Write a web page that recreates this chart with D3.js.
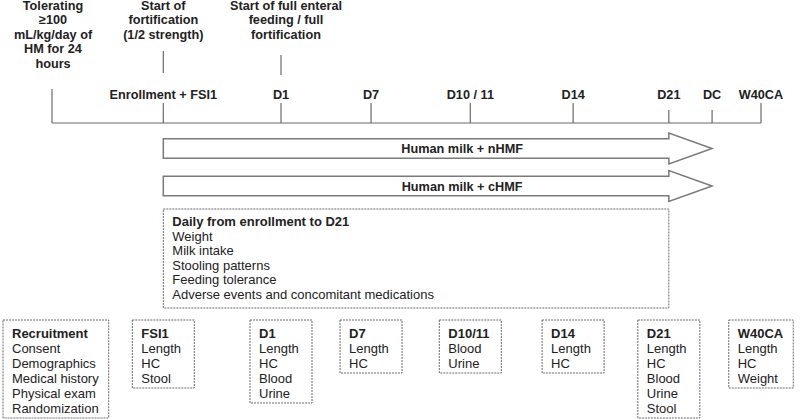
<!DOCTYPE html>
<html>
<head>
<meta charset="utf-8">
<script src="https://cdn.jsdelivr.net/npm/d3@7"></script>
<style>
  body { margin: 0; background: #fff; }
  svg { display: block; font-family: "Liberation Sans", Arial, sans-serif; }
</style>
</head>
<body>
<div id="chart"></div>
<script>
// timeline milestones, position is % along the timeline
const milestones = ["", "Enrollment + FSI1", "D1", "D7", "D10 / 11", "D14", "D21", "DC", "W40CA"];
const milestonePos = [0, 15.7, 32.3, 45, 59, 73.5, 87, 93.1, 100];
const tickKind = ["long", "major", "major", "major", "major", "major", "minor", "minor", "major"];

// notes above the timeline (milestone index + text lines)
const noteAt = [0, 1, 2];
const noteLines = [
  ["Tolerating", "\u2265100", "mL/kg/day of", "HM for 24", "hours"],
  ["Start of", "fortification", "(1/2 strength)"],
  ["Start of full enteral", "feeding / full", "fortification"]
];

// study arms (arrows)
const arms = ["Human milk + nHMF", "Human milk + cHMF"];

// daily assessments
const dailyTitle = "Daily from enrollment to D21";
const dailyItems = ["Weight", "Milk intake", "Stooling patterns", "Feeding tolerance", "Adverse events and concomitant medications"];

// visit boxes
const visitTitles = ["Recruitment", "FSI1", "D1", "D7", "D10/11", "D14", "D21", "W40CA"];
const visitAt = [0, 1, 2, 3, 4, 5, 6, 8];
const visitItems = [
  ["Consent", "Demographics", "Medical history", "Physical exam", "Randomization"],
  ["Length", "HC", "Stool"],
  ["Length", "HC", "Blood", "Urine"],
  ["Length", "HC"],
  ["Blood", "Urine"],
  ["Length", "HC"],
  ["Length", "HC", "Blood", "Urine", "Stool"],
  ["Length", "HC", "Weight"]
];

const width = 800, height = 419;
const ink = "#222";
const lineCol = "#6a6a6a";

const x = d3.scaleLinear().domain([0, 100]).range([52, 761]);
const axisY = 123;

// attach early so text can be measured
const svg = d3.select("#chart").append("svg").attr("width", width).attr("height", height);

// timeline line
svg.append("line")
  .attr("x1", x(0)).attr("x2", x(100))
  .attr("y1", axisY).attr("y2", axisY)
  .attr("stroke", lineCol).attr("stroke-width", 1.2);

// ticks
const tickTop = { long: 89, major: 103, minor: 110 };
svg.append("g")
  .selectAll("line")
  .data(milestonePos)
  .join("line")
  .attr("x1", (d) => x(d)).attr("x2", (d) => x(d))
  .attr("y1", (d, i) => tickTop[tickKind[i]]).attr("y2", axisY)
  .attr("stroke", lineCol).attr("stroke-width", 1.2);

// tick labels
svg.append("g")
  .selectAll("text")
  .data(milestones)
  .join("text")
  .attr("x", (d, i) => x(milestonePos[i]))
  .attr("y", 99)
  .attr("text-anchor", "middle")
  .attr("font-size", 12.7)
  .attr("font-weight", "bold")
  .attr("fill", ink)
  .text((d) => d);

// notes above
noteAt.forEach((mi, n) => {
  const cx = x(milestonePos[mi]) + (n === 2 ? 5 : n === 0 ? 1 : 0);
  const t = svg.append("text")
    .attr("text-anchor", "middle")
    .attr("font-size", 12.7)
    .attr("font-weight", "bold")
    .attr("fill", ink);
  noteLines[n].forEach((s, k) => {
    t.append("tspan").attr("x", cx).attr("y", 9.5 + k * 14.5).text(s);
  });
  // connector tick for notes that sit above a milestone label
  if (mi > 0) {
    svg.append("line")
      .attr("x1", x(milestonePos[mi])).attr("x2", x(milestonePos[mi]))
      .attr("y1", 51 + (n - 1) * 4).attr("y2", 73 + (n - 1) * 2)
      .attr("stroke", lineCol).attr("stroke-width", 1.2);
  }
});

// arms as arrows
const yArm = d3.scalePoint().domain(arms).range([148.5, 186]);
const x0 = x(milestonePos[1]), xb = x(milestonePos[6]), xt = x(milestonePos[7]);
const bodyH = 9.7, headH = 15.5;
arms.forEach((a) => {
  const cy = yArm(a);
  const p = d3.path();
  p.moveTo(x0, cy - bodyH);
  p.lineTo(xb, cy - bodyH);
  p.lineTo(xb, cy - headH);
  p.lineTo(xt, cy);
  p.lineTo(xb, cy + headH);
  p.lineTo(xb, cy + bodyH);
  p.lineTo(x0, cy + bodyH);
  p.closePath();
  svg.append("path")
    .attr("d", p.toString())
    .attr("fill", "#fff")
    .attr("stroke", "#7a7a7a")
    .attr("stroke-width", 1.5)
    .attr("stroke-linejoin", "miter");
  svg.append("text")
    .attr("x", (x0 + x(100)) / 2)
    .attr("y", cy + 4.5)
    .attr("text-anchor", "middle")
    .attr("font-size", 12.7)
    .attr("font-weight", "bold")
    .attr("fill", ink)
    .text(a);
});

// daily box
const dailyTop = 209;
svg.append("rect")
  .attr("x", x0).attr("y", dailyTop)
  .attr("width", xb - x0).attr("height", 99)
  .attr("fill", "none")
  .attr("stroke", lineCol).attr("stroke-width", 1)
  .attr("stroke-dasharray", "2,1");
const dt = svg.append("text").attr("font-size", 13).attr("fill", ink);
[dailyTitle, ...dailyItems].forEach((s, k) => {
  dt.append("tspan")
    .attr("x", x0 + 9)
    .attr("y", dailyTop + 17 + k * 14.5)
    .attr("font-weight", k === 0 ? "bold" : null)
    .text(s);
});

// visit boxes
const boxTop = 320, rowH = 15;
const measure = svg.append("text").attr("font-size", 13).attr("visibility", "hidden");
function textW(s, bold) {
  measure.attr("font-weight", bold ? "bold" : null).text(s);
  return measure.node().getComputedTextLength();
}
visitTitles.forEach((title, i) => {
  const lines = [title, ...visitItems[i]];
  const w = Math.max(62, d3.max(lines, (s, k) => textW(s, k === 0)) + 19);
  const cx = x(milestonePos[visitAt[i]]);
  const left = Math.max(3, cx - w / 2);
  const h = 8 + lines.length * rowH;
  svg.append("rect")
    .attr("x", left).attr("y", boxTop)
    .attr("width", w).attr("height", h)
    .attr("fill", "none")
    .attr("stroke", lineCol).attr("stroke-width", 1)
    .attr("stroke-dasharray", "2,1");
  const t = svg.append("text").attr("font-size", 13).attr("fill", ink);
  lines.forEach((s, k) => {
    t.append("tspan")
      .attr("x", left + 9)
      .attr("y", boxTop + 17.5 + k * rowH)
      .attr("font-weight", k === 0 ? "bold" : null)
      .text(s);
  });
});
measure.remove();
</script>
</body>
</html>
